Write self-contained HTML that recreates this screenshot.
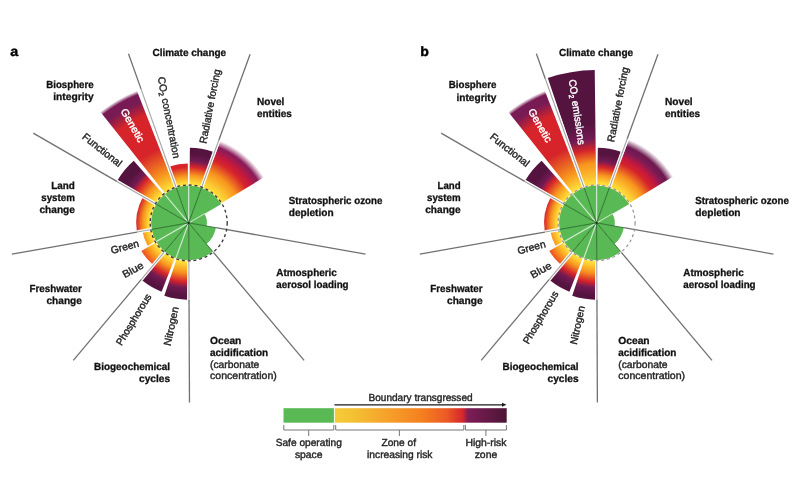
<!DOCTYPE html>
<html><head><meta charset="utf-8"><title>Planetary boundaries</title>
<style>
html,body{margin:0;padding:0;background:#fff;}
body{width:800px;height:500px;overflow:hidden;}
svg{display:block;font-family:"Liberation Sans",sans-serif;text-rendering:geometricPrecision;}
</style></head><body>
<svg width="800" height="500" viewBox="0 0 800 500">
<defs>
<radialGradient id="g1" gradientUnits="userSpaceOnUse" cx="188.7" cy="222.9" r="59.50"><stop offset="0.6723" stop-color="#ffdb38"/><stop offset="0.7899" stop-color="#f7931e"/><stop offset="0.9412" stop-color="#d6242a"/></radialGradient>
<radialGradient id="g2" gradientUnits="userSpaceOnUse" cx="188.7" cy="222.9" r="75.20"><stop offset="0.5319" stop-color="#ffdb38"/><stop offset="0.6383" stop-color="#f7931e"/><stop offset="0.7447" stop-color="#d6242a"/><stop offset="0.8245" stop-color="#721a53"/><stop offset="0.9176" stop-color="#551440"/></radialGradient>
<radialGradient id="g3" gradientUnits="userSpaceOnUse" cx="188.7" cy="222.9" r="88.00"><stop offset="0.4545" stop-color="#ffdb38"/><stop offset="0.6250" stop-color="#f7931e"/><stop offset="0.7614" stop-color="#d6242a"/><stop offset="0.8295" stop-color="#c2183f"/><stop offset="0.9091" stop-color="#8a1c5a"/><stop offset="0.9205" stop-color="#8a1c5a"/><stop offset="1" stop-color="#8a1c5a" stop-opacity="0"/></radialGradient>
<radialGradient id="g4" gradientUnits="userSpaceOnUse" cx="188.7" cy="222.9" r="76.80"><stop offset="0.5208" stop-color="#ffdb38"/><stop offset="0.6510" stop-color="#f7931e"/><stop offset="0.7682" stop-color="#d6242a"/><stop offset="0.8464" stop-color="#721a53"/><stop offset="0.9505" stop-color="#551440"/></radialGradient>
<radialGradient id="g5" gradientUnits="userSpaceOnUse" cx="188.7" cy="222.9" r="74.00"><stop offset="0.5405" stop-color="#ffdb38"/><stop offset="0.6486" stop-color="#f7931e"/><stop offset="0.7568" stop-color="#d6242a"/><stop offset="0.8378" stop-color="#721a53"/><stop offset="0.9459" stop-color="#551440"/></radialGradient>
<radialGradient id="g6" gradientUnits="userSpaceOnUse" cx="188.7" cy="222.9" r="55.00"><stop offset="0.7273" stop-color="#ffdb38"/><stop offset="0.8727" stop-color="#f7931e"/><stop offset="1.0000" stop-color="#ee4d23"/></radialGradient>
<radialGradient id="g7" gradientUnits="userSpaceOnUse" cx="188.7" cy="222.9" r="47.00"><stop offset="0.8511" stop-color="#ffdb38"/><stop offset="1.0000" stop-color="#f7931e"/></radialGradient>
<radialGradient id="g8" gradientUnits="userSpaceOnUse" cx="188.7" cy="222.9" r="52.50"><stop offset="0.7619" stop-color="#ffdb38"/><stop offset="0.8762" stop-color="#f7931e"/><stop offset="1.0000" stop-color="#d6242a"/></radialGradient>
<radialGradient id="g9" gradientUnits="userSpaceOnUse" cx="188.7" cy="222.9" r="83.00"><stop offset="0.4819" stop-color="#ffdb38"/><stop offset="0.6024" stop-color="#f7931e"/><stop offset="0.7229" stop-color="#d6242a"/><stop offset="0.7952" stop-color="#721a53"/><stop offset="0.8795" stop-color="#551440"/></radialGradient>
<radialGradient id="g10" gradientUnits="userSpaceOnUse" cx="188.7" cy="222.9" r="142.00"><stop offset="0.2817" stop-color="#ffdb38"/><stop offset="0.3873" stop-color="#f7931e"/><stop offset="0.5634" stop-color="#d6242a"/><stop offset="0.8169" stop-color="#d6242a"/><stop offset="0.9155" stop-color="#781b54"/><stop offset="0.9718" stop-color="#781b54"/><stop offset="1" stop-color="#781b54" stop-opacity="0"/></radialGradient>
<radialGradient id="g11" gradientUnits="userSpaceOnUse" cx="596.6" cy="222.9" r="153.00"><stop offset="0.2614" stop-color="#ffdb38"/><stop offset="0.3007" stop-color="#fcc030"/><stop offset="0.3922" stop-color="#f7931e"/><stop offset="0.4771" stop-color="#d6242a"/><stop offset="0.5490" stop-color="#721a53"/><stop offset="0.6471" stop-color="#551440"/></radialGradient>
<radialGradient id="g12" gradientUnits="userSpaceOnUse" cx="596.6" cy="222.9" r="75.20"><stop offset="0.5319" stop-color="#ffdb38"/><stop offset="0.6383" stop-color="#f7931e"/><stop offset="0.7447" stop-color="#d6242a"/><stop offset="0.8245" stop-color="#721a53"/><stop offset="0.9176" stop-color="#551440"/></radialGradient>
<radialGradient id="g13" gradientUnits="userSpaceOnUse" cx="596.6" cy="222.9" r="89.50"><stop offset="0.4469" stop-color="#ffdb38"/><stop offset="0.5922" stop-color="#f7931e"/><stop offset="0.7151" stop-color="#d6242a"/><stop offset="0.7821" stop-color="#c2183f"/><stop offset="0.8603" stop-color="#7c1b56"/><stop offset="0.9162" stop-color="#6c184e"/><stop offset="0.9106" stop-color="#6c184e"/><stop offset="1" stop-color="#6c184e" stop-opacity="0"/></radialGradient>
<radialGradient id="g14" gradientUnits="userSpaceOnUse" cx="596.6" cy="222.9" r="76.80"><stop offset="0.5208" stop-color="#ffdb38"/><stop offset="0.6510" stop-color="#f7931e"/><stop offset="0.7682" stop-color="#d6242a"/><stop offset="0.8464" stop-color="#721a53"/><stop offset="0.9505" stop-color="#551440"/></radialGradient>
<radialGradient id="g15" gradientUnits="userSpaceOnUse" cx="596.6" cy="222.9" r="74.00"><stop offset="0.5405" stop-color="#ffdb38"/><stop offset="0.6486" stop-color="#f7931e"/><stop offset="0.7568" stop-color="#d6242a"/><stop offset="0.8378" stop-color="#721a53"/><stop offset="0.9459" stop-color="#551440"/></radialGradient>
<radialGradient id="g16" gradientUnits="userSpaceOnUse" cx="596.6" cy="222.9" r="55.00"><stop offset="0.7273" stop-color="#ffdb38"/><stop offset="0.8727" stop-color="#f7931e"/><stop offset="1.0000" stop-color="#ee4d23"/></radialGradient>
<radialGradient id="g17" gradientUnits="userSpaceOnUse" cx="596.6" cy="222.9" r="47.00"><stop offset="0.8511" stop-color="#ffdb38"/><stop offset="1.0000" stop-color="#f7931e"/></radialGradient>
<radialGradient id="g18" gradientUnits="userSpaceOnUse" cx="596.6" cy="222.9" r="52.50"><stop offset="0.7619" stop-color="#ffdb38"/><stop offset="0.8762" stop-color="#f7931e"/><stop offset="1.0000" stop-color="#d6242a"/></radialGradient>
<radialGradient id="g19" gradientUnits="userSpaceOnUse" cx="596.6" cy="222.9" r="83.00"><stop offset="0.4819" stop-color="#ffdb38"/><stop offset="0.6024" stop-color="#f7931e"/><stop offset="0.7229" stop-color="#d6242a"/><stop offset="0.7952" stop-color="#721a53"/><stop offset="0.8795" stop-color="#551440"/></radialGradient>
<radialGradient id="g20" gradientUnits="userSpaceOnUse" cx="596.6" cy="222.9" r="142.00"><stop offset="0.2817" stop-color="#ffdb38"/><stop offset="0.3873" stop-color="#f7931e"/><stop offset="0.5634" stop-color="#d6242a"/><stop offset="0.8169" stop-color="#d6242a"/><stop offset="0.9155" stop-color="#781b54"/><stop offset="0.9718" stop-color="#781b54"/><stop offset="1" stop-color="#781b54" stop-opacity="0"/></radialGradient>
<linearGradient id="lg" x1="0" x2="1" y1="0" y2="0"><stop offset="0" stop-color="#f5cc3a"/><stop offset="0.1" stop-color="#f4c235"/><stop offset="0.3" stop-color="#f6a22b"/><stop offset="0.5" stop-color="#f5811f"/><stop offset="0.65" stop-color="#ec5a25"/><stop offset="0.745" stop-color="#d6262b"/><stop offset="0.775" stop-color="#7e1d57"/><stop offset="1" stop-color="#4b1535"/></linearGradient>
</defs>
<rect width="800" height="500" fill="#fff"/>
<path d="M188.70,222.90L175.77,187.38A37.80,37.80 0 0 1 188.70,185.10Z" fill="#59b954"/><path d="M176.65,187.50L169.53,166.57A59.50,59.50 0 0 1 187.77,163.41L188.11,185.50A37.40,37.40 0 0 0 176.65,187.50Z" fill="url(#g1)"/>
<path d="M188.70,222.90L188.70,185.10A37.80,37.80 0 0 1 201.63,187.38Z" fill="#59b954"/><path d="M189.29,185.50L189.88,147.71A75.20,75.20 0 0 1 212.93,151.71L200.75,187.50A37.40,37.40 0 0 0 189.29,185.50Z" fill="url(#g2)"/>
<path d="M188.70,222.90L201.63,187.38A37.80,37.80 0 0 1 221.44,204.00Z" fill="#59b954"/><path d="M202.22,188.03L220.52,140.86A88.00,88.00 0 0 1 263.97,177.31L220.69,203.53A37.40,37.40 0 0 0 202.22,188.03Z" fill="url(#g3)"/>
<path d="M188.70,222.90L204.46,213.80A18.20,18.20 0 0 1 206.62,226.06Z" fill="#59b954"/>
<path d="M188.70,222.90L215.88,227.69A27.60,27.60 0 0 1 206.44,244.04Z" fill="#59b954"/>
<path d="M188.70,222.90L212.68,251.47A37.30,37.30 0 0 1 188.70,260.20Z" fill="#59b954"/>
<path d="M188.70,222.90L188.70,260.70A37.80,37.80 0 0 1 175.77,258.42Z" fill="#59b954"/><path d="M187.92,260.29L187.09,299.68A76.80,76.80 0 0 1 164.33,295.73L176.83,258.37A37.40,37.40 0 0 0 187.92,260.29Z" fill="url(#g4)"/>
<path d="M188.70,222.90L175.77,258.42A37.80,37.80 0 0 1 164.40,251.86Z" fill="#59b954"/><path d="M174.99,257.70L161.58,291.75A74.00,74.00 0 0 1 142.33,280.57L165.27,252.05A37.40,37.40 0 0 0 174.99,257.70Z" fill="url(#g5)"/>
<path d="M188.70,222.90L164.40,251.86A37.80,37.80 0 0 1 155.96,241.80Z" fill="#59b954"/><path d="M164.07,251.04L152.47,264.28A55.00,55.00 0 0 1 141.31,250.81L156.48,241.88A37.40,37.40 0 0 0 164.07,251.04Z" fill="url(#g6)"/>
<path d="M188.70,222.90L155.96,241.80A37.80,37.80 0 0 1 151.47,229.46Z" fill="#59b954"/><path d="M156.15,241.32L147.79,246.04A47.00,47.00 0 0 1 142.60,232.03L152.01,230.16A37.40,37.40 0 0 0 156.15,241.32Z" fill="url(#g7)"/>
<path d="M188.70,222.90L151.47,229.46A37.80,37.80 0 0 1 155.96,204.00Z" fill="#59b954"/><path d="M151.74,228.62L136.82,230.93A52.50,52.50 0 0 1 142.69,197.61L155.93,204.88A37.40,37.40 0 0 0 151.74,228.62Z" fill="url(#g8)"/>
<path d="M188.70,222.90L155.96,204.00A37.80,37.80 0 0 1 164.40,193.94Z" fill="#59b954"/><path d="M156.71,203.53L117.70,179.90A83.00,83.00 0 0 1 133.70,160.74L163.92,194.89A37.40,37.40 0 0 0 156.71,203.53Z" fill="url(#g9)"/>
<path d="M188.70,222.90L164.40,193.94A37.80,37.80 0 0 1 175.77,187.38Z" fill="#59b954"/><path d="M165.42,193.63L100.30,111.77A142.00,142.00 0 0 1 136.89,90.69L175.05,188.08A37.40,37.40 0 0 0 165.42,193.63Z" fill="url(#g10)"/>
<line x1="188.70" y1="222.90" x2="188.70" y2="146.70" stroke="#fff" stroke-width="1.3" stroke-opacity="0.6"/>
<line x1="188.70" y1="222.90" x2="96.78" y2="113.36" stroke="#fff" stroke-width="1.3" stroke-opacity="0.6"/>
<line x1="188.70" y1="222.90" x2="140.20" y2="250.90" stroke="#fff" stroke-width="1.3" stroke-opacity="0.6"/>
<line x1="188.70" y1="222.90" x2="162.09" y2="296.01" stroke="#fff" stroke-width="1.3" stroke-opacity="0.6"/>
<line x1="188.70" y1="222.90" x2="204.81" y2="213.60" stroke="#fff" stroke-width="1.1" stroke-opacity="0.5"/>
<line x1="176.02" y1="187.29" x2="141.07" y2="89.13" stroke="#fff" stroke-width="3.5" stroke-opacity="0.9"/>
<line x1="176.02" y1="187.29" x2="141.07" y2="89.13" stroke="#000" stroke-width="1.1" stroke-opacity="0.36"/>
<line x1="141.07" y1="89.13" x2="128.49" y2="53.80" stroke="#000" stroke-width="1.3" stroke-opacity="0.56"/>
<line x1="188.70" y1="222.90" x2="176.02" y2="187.29" stroke="#1f5f22" stroke-width="0.9" stroke-opacity="0.9"/>
<line x1="201.63" y1="187.38" x2="218.80" y2="140.21" stroke="#fff" stroke-width="3.5" stroke-opacity="0.9"/>
<line x1="201.63" y1="187.38" x2="218.80" y2="140.21" stroke="#000" stroke-width="1.1" stroke-opacity="0.36"/>
<line x1="218.80" y1="140.21" x2="250.09" y2="54.23" stroke="#000" stroke-width="1.3" stroke-opacity="0.56"/>
<line x1="188.70" y1="222.90" x2="201.63" y2="187.38" stroke="#1f5f22" stroke-width="0.9" stroke-opacity="0.9"/>
<line x1="215.88" y1="227.69" x2="365.47" y2="254.07" stroke="#000" stroke-width="1.3" stroke-opacity="0.56"/>
<line x1="188.70" y1="222.90" x2="215.88" y2="227.69" stroke="#1f5f22" stroke-width="0.9" stroke-opacity="0.9"/>
<line x1="212.68" y1="251.47" x2="304.08" y2="360.40" stroke="#000" stroke-width="1.3" stroke-opacity="0.56"/>
<line x1="188.70" y1="222.90" x2="212.68" y2="251.47" stroke="#1f5f22" stroke-width="0.9" stroke-opacity="0.9"/>
<line x1="188.86" y1="260.70" x2="189.04" y2="299.70" stroke="#fff" stroke-width="3.5" stroke-opacity="0.9"/>
<line x1="188.86" y1="260.70" x2="189.04" y2="299.70" stroke="#000" stroke-width="1.1" stroke-opacity="0.36"/>
<line x1="189.04" y1="299.70" x2="189.48" y2="402.40" stroke="#000" stroke-width="1.3" stroke-opacity="0.56"/>
<line x1="188.70" y1="222.90" x2="188.86" y2="260.70" stroke="#1f5f22" stroke-width="0.9" stroke-opacity="0.9"/>
<line x1="164.40" y1="251.86" x2="141.13" y2="279.59" stroke="#fff" stroke-width="3.5" stroke-opacity="0.9"/>
<line x1="164.40" y1="251.86" x2="141.13" y2="279.59" stroke="#000" stroke-width="1.1" stroke-opacity="0.36"/>
<line x1="141.13" y1="279.59" x2="73.32" y2="360.40" stroke="#000" stroke-width="1.3" stroke-opacity="0.56"/>
<line x1="188.70" y1="222.90" x2="164.40" y2="251.86" stroke="#1f5f22" stroke-width="0.9" stroke-opacity="0.9"/>
<line x1="151.47" y1="229.46" x2="137.00" y2="232.02" stroke="#fff" stroke-width="3.5" stroke-opacity="0.9"/>
<line x1="151.47" y1="229.46" x2="137.00" y2="232.02" stroke="#000" stroke-width="1.1" stroke-opacity="0.36"/>
<line x1="137.00" y1="232.02" x2="11.93" y2="254.07" stroke="#000" stroke-width="1.3" stroke-opacity="0.56"/>
<line x1="188.70" y1="222.90" x2="151.47" y2="229.46" stroke="#1f5f22" stroke-width="0.9" stroke-opacity="0.9"/>
<line x1="155.96" y1="204.00" x2="116.82" y2="181.40" stroke="#fff" stroke-width="3.5" stroke-opacity="0.9"/>
<line x1="155.96" y1="204.00" x2="116.82" y2="181.40" stroke="#000" stroke-width="1.1" stroke-opacity="0.36"/>
<line x1="116.82" y1="181.40" x2="33.25" y2="133.15" stroke="#000" stroke-width="1.3" stroke-opacity="0.56"/>
<line x1="188.70" y1="222.90" x2="155.96" y2="204.00" stroke="#1f5f22" stroke-width="0.9" stroke-opacity="0.9"/>
<ellipse cx="188.7" cy="222.9" rx="38.4" ry="37.9" fill="none" stroke="#fff" stroke-width="1.2" stroke-opacity="0.55"/>
<ellipse cx="188.7" cy="222.9" rx="38.5" ry="37.9" fill="none" stroke="#3a363d" stroke-width="1.35" stroke-dasharray="2.9 2.9"/>
<circle cx="188.7" cy="222.9" r="1.1" fill="#163516"/>
<path d="M596.60,222.90L583.67,187.38A37.80,37.80 0 0 1 596.60,185.10Z" fill="#59b954"/><path d="M584.67,187.45L547.80,77.89A153.00,153.00 0 0 1 594.73,69.91L596.14,185.50A37.40,37.40 0 0 0 584.67,187.45Z" fill="url(#g11)"/>
<path d="M596.60,222.90L596.60,185.10A37.80,37.80 0 0 1 609.53,187.38Z" fill="#59b954"/><path d="M597.19,185.50L597.78,147.71A75.20,75.20 0 0 1 620.83,151.71L608.65,187.50A37.40,37.40 0 0 0 597.19,185.50Z" fill="url(#g12)"/>
<path d="M596.60,222.90L609.53,187.38A37.80,37.80 0 0 1 629.34,204.00Z" fill="#59b954"/><path d="M610.12,188.03L628.97,139.46A89.50,89.50 0 0 1 673.16,176.54L628.59,203.53A37.40,37.40 0 0 0 610.12,188.03Z" fill="url(#g13)"/>
<path d="M596.60,222.90L612.36,213.80A18.20,18.20 0 0 1 614.52,226.06Z" fill="#59b954"/>
<path d="M596.60,222.90L623.78,227.69A27.60,27.60 0 0 1 614.34,244.04Z" fill="#59b954"/>
<path d="M596.60,222.90L620.58,251.47A37.30,37.30 0 0 1 596.60,260.20Z" fill="#59b954"/>
<path d="M596.60,222.90L596.60,260.70A37.80,37.80 0 0 1 583.67,258.42Z" fill="#59b954"/><path d="M595.82,260.29L594.99,299.68A76.80,76.80 0 0 1 572.23,295.73L584.73,258.37A37.40,37.40 0 0 0 595.82,260.29Z" fill="url(#g14)"/>
<path d="M596.60,222.90L583.67,258.42A37.80,37.80 0 0 1 572.30,251.86Z" fill="#59b954"/><path d="M582.89,257.70L569.48,291.75A74.00,74.00 0 0 1 550.23,280.57L573.17,252.05A37.40,37.40 0 0 0 582.89,257.70Z" fill="url(#g15)"/>
<path d="M596.60,222.90L572.30,251.86A37.80,37.80 0 0 1 563.86,241.80Z" fill="#59b954"/><path d="M571.97,251.04L560.37,264.28A55.00,55.00 0 0 1 549.21,250.81L564.38,241.88A37.40,37.40 0 0 0 571.97,251.04Z" fill="url(#g16)"/>
<path d="M596.60,222.90L563.86,241.80A37.80,37.80 0 0 1 559.37,229.46Z" fill="#59b954"/><path d="M564.05,241.32L555.69,246.04A47.00,47.00 0 0 1 550.50,232.03L559.91,230.16A37.40,37.40 0 0 0 564.05,241.32Z" fill="url(#g17)"/>
<path d="M596.60,222.90L559.37,229.46A37.80,37.80 0 0 1 563.86,204.00Z" fill="#59b954"/><path d="M559.64,228.62L544.72,230.93A52.50,52.50 0 0 1 550.59,197.61L563.83,204.88A37.40,37.40 0 0 0 559.64,228.62Z" fill="url(#g18)"/>
<path d="M596.60,222.90L563.86,204.00A37.80,37.80 0 0 1 572.30,193.94Z" fill="#59b954"/><path d="M564.61,203.53L525.60,179.90A83.00,83.00 0 0 1 541.60,160.74L571.82,194.89A37.40,37.40 0 0 0 564.61,203.53Z" fill="url(#g19)"/>
<path d="M596.60,222.90L572.30,193.94A37.80,37.80 0 0 1 583.67,187.38Z" fill="#59b954"/><path d="M573.32,193.63L508.20,111.77A142.00,142.00 0 0 1 544.79,90.69L582.95,188.08A37.40,37.40 0 0 0 573.32,193.63Z" fill="url(#g20)"/>
<line x1="596.60" y1="222.90" x2="596.60" y2="68.90" stroke="#fff" stroke-width="1.3" stroke-opacity="0.6"/>
<line x1="596.60" y1="222.90" x2="504.68" y2="113.36" stroke="#fff" stroke-width="1.3" stroke-opacity="0.6"/>
<line x1="596.60" y1="222.90" x2="548.10" y2="250.90" stroke="#fff" stroke-width="1.3" stroke-opacity="0.6"/>
<line x1="596.60" y1="222.90" x2="569.99" y2="296.01" stroke="#fff" stroke-width="1.3" stroke-opacity="0.6"/>
<line x1="596.60" y1="222.90" x2="612.71" y2="213.60" stroke="#fff" stroke-width="1.1" stroke-opacity="0.5"/>
<line x1="583.92" y1="187.29" x2="545.28" y2="78.77" stroke="#fff" stroke-width="3.5" stroke-opacity="0.9"/>
<line x1="583.92" y1="187.29" x2="545.28" y2="78.77" stroke="#000" stroke-width="1.1" stroke-opacity="0.36"/>
<line x1="545.28" y1="78.77" x2="536.39" y2="53.80" stroke="#000" stroke-width="1.3" stroke-opacity="0.56"/>
<line x1="596.60" y1="222.90" x2="583.92" y2="187.29" stroke="#1f5f22" stroke-width="0.9" stroke-opacity="0.9"/>
<line x1="609.53" y1="187.38" x2="627.21" y2="138.80" stroke="#fff" stroke-width="3.5" stroke-opacity="0.9"/>
<line x1="609.53" y1="187.38" x2="627.21" y2="138.80" stroke="#000" stroke-width="1.1" stroke-opacity="0.36"/>
<line x1="627.21" y1="138.80" x2="657.99" y2="54.23" stroke="#000" stroke-width="1.3" stroke-opacity="0.56"/>
<line x1="596.60" y1="222.90" x2="609.53" y2="187.38" stroke="#1f5f22" stroke-width="0.9" stroke-opacity="0.9"/>
<line x1="623.78" y1="227.69" x2="773.37" y2="254.07" stroke="#000" stroke-width="1.3" stroke-opacity="0.56"/>
<line x1="596.60" y1="222.90" x2="623.78" y2="227.69" stroke="#1f5f22" stroke-width="0.9" stroke-opacity="0.9"/>
<line x1="620.58" y1="251.47" x2="711.98" y2="360.40" stroke="#000" stroke-width="1.3" stroke-opacity="0.56"/>
<line x1="596.60" y1="222.90" x2="620.58" y2="251.47" stroke="#1f5f22" stroke-width="0.9" stroke-opacity="0.9"/>
<line x1="596.76" y1="260.70" x2="596.94" y2="299.70" stroke="#fff" stroke-width="3.5" stroke-opacity="0.9"/>
<line x1="596.76" y1="260.70" x2="596.94" y2="299.70" stroke="#000" stroke-width="1.1" stroke-opacity="0.36"/>
<line x1="596.94" y1="299.70" x2="597.38" y2="402.40" stroke="#000" stroke-width="1.3" stroke-opacity="0.56"/>
<line x1="596.60" y1="222.90" x2="596.76" y2="260.70" stroke="#1f5f22" stroke-width="0.9" stroke-opacity="0.9"/>
<line x1="572.30" y1="251.86" x2="549.03" y2="279.59" stroke="#fff" stroke-width="3.5" stroke-opacity="0.9"/>
<line x1="572.30" y1="251.86" x2="549.03" y2="279.59" stroke="#000" stroke-width="1.1" stroke-opacity="0.36"/>
<line x1="549.03" y1="279.59" x2="481.22" y2="360.40" stroke="#000" stroke-width="1.3" stroke-opacity="0.56"/>
<line x1="596.60" y1="222.90" x2="572.30" y2="251.86" stroke="#1f5f22" stroke-width="0.9" stroke-opacity="0.9"/>
<line x1="559.37" y1="229.46" x2="544.90" y2="232.02" stroke="#fff" stroke-width="3.5" stroke-opacity="0.9"/>
<line x1="559.37" y1="229.46" x2="544.90" y2="232.02" stroke="#000" stroke-width="1.1" stroke-opacity="0.36"/>
<line x1="544.90" y1="232.02" x2="419.83" y2="254.07" stroke="#000" stroke-width="1.3" stroke-opacity="0.56"/>
<line x1="596.60" y1="222.90" x2="559.37" y2="229.46" stroke="#1f5f22" stroke-width="0.9" stroke-opacity="0.9"/>
<line x1="563.86" y1="204.00" x2="524.72" y2="181.40" stroke="#fff" stroke-width="3.5" stroke-opacity="0.9"/>
<line x1="563.86" y1="204.00" x2="524.72" y2="181.40" stroke="#000" stroke-width="1.1" stroke-opacity="0.36"/>
<line x1="524.72" y1="181.40" x2="441.15" y2="133.15" stroke="#000" stroke-width="1.3" stroke-opacity="0.56"/>
<line x1="596.60" y1="222.90" x2="563.86" y2="204.00" stroke="#1f5f22" stroke-width="0.9" stroke-opacity="0.9"/>
<ellipse cx="596.6" cy="222.9" rx="38.4" ry="37.9" fill="none" stroke="#fff" stroke-width="1.2" stroke-opacity="0.55"/>
<ellipse cx="596.6" cy="222.9" rx="38.5" ry="37.9" fill="none" stroke="#908c98" stroke-width="1.1" stroke-dasharray="2.9 2.9"/>
<circle cx="596.6" cy="222.9" r="1.1" fill="#163516"/>
<text x="10.2" y="55.9" font-size="13.8" font-weight="bold" fill="#000" stroke="#000" stroke-width="0.4" textLength="8" lengthAdjust="spacingAndGlyphs">a</text>
<text x="420.2" y="55.9" font-size="13.6" font-weight="bold" fill="#000" stroke="#000" stroke-width="0.4" textLength="8.6" lengthAdjust="spacingAndGlyphs">b</text>
<text x="152.50" y="56.00" font-size="10.3" font-weight="bold" stroke="#111" stroke-width="0.3" fill="#111" textLength="73.60" lengthAdjust="spacingAndGlyphs">Climate change</text>
<text x="46.25" y="87.90" font-size="10.3" font-weight="bold" stroke="#111" stroke-width="0.3" fill="#111" textLength="47.35" lengthAdjust="spacingAndGlyphs">Biosphere</text>
<text x="53.25" y="100.10" font-size="10.3" font-weight="bold" stroke="#111" stroke-width="0.3" fill="#111" textLength="40.35" lengthAdjust="spacingAndGlyphs">integrity</text>
<text x="257.00" y="105.00" font-size="10.3" font-weight="bold" stroke="#111" stroke-width="0.3" fill="#111" textLength="27.35" lengthAdjust="spacingAndGlyphs">Novel</text>
<text x="257.00" y="117.00" font-size="10.3" font-weight="bold" stroke="#111" stroke-width="0.3" fill="#111" textLength="34.85" lengthAdjust="spacingAndGlyphs">entities</text>
<text x="288.75" y="203.90" font-size="10.3" font-weight="bold" stroke="#111" stroke-width="0.3" fill="#111" textLength="93.60" lengthAdjust="spacingAndGlyphs">Stratospheric ozone</text>
<text x="288.75" y="216.00" font-size="10.3" font-weight="bold" stroke="#111" stroke-width="0.3" fill="#111" textLength="44.85" lengthAdjust="spacingAndGlyphs">depletion</text>
<text x="51.25" y="188.75" font-size="10.3" font-weight="bold" stroke="#111" stroke-width="0.3" fill="#111" textLength="23.60" lengthAdjust="spacingAndGlyphs">Land</text>
<text x="41.25" y="200.75" font-size="10.3" font-weight="bold" stroke="#111" stroke-width="0.3" fill="#111" textLength="33.60" lengthAdjust="spacingAndGlyphs">system</text>
<text x="39.50" y="212.50" font-size="10.3" font-weight="bold" stroke="#111" stroke-width="0.3" fill="#111" textLength="35.35" lengthAdjust="spacingAndGlyphs">change</text>
<text x="29.50" y="291.75" font-size="10.3" font-weight="bold" stroke="#111" stroke-width="0.3" fill="#111" textLength="52.35" lengthAdjust="spacingAndGlyphs">Freshwater</text>
<text x="46.50" y="303.75" font-size="10.3" font-weight="bold" stroke="#111" stroke-width="0.3" fill="#111" textLength="35.35" lengthAdjust="spacingAndGlyphs">change</text>
<text x="94.00" y="369.50" font-size="10.3" font-weight="bold" stroke="#111" stroke-width="0.3" fill="#111" textLength="76.10" lengthAdjust="spacingAndGlyphs">Biogeochemical</text>
<text x="139.00" y="381.75" font-size="10.3" font-weight="bold" stroke="#111" stroke-width="0.3" fill="#111" textLength="31.10" lengthAdjust="spacingAndGlyphs">cycles</text>
<text x="276.25" y="276.25" font-size="10.3" font-weight="bold" stroke="#111" stroke-width="0.3" fill="#111" textLength="60.60" lengthAdjust="spacingAndGlyphs">Atmospheric</text>
<text x="276.25" y="288.25" font-size="10.3" font-weight="bold" stroke="#111" stroke-width="0.3" fill="#111" textLength="72.35" lengthAdjust="spacingAndGlyphs">aerosol loading</text>
<text x="210.00" y="344.25" font-size="10.3" font-weight="bold" stroke="#111" stroke-width="0.3" fill="#111" textLength="31.35" lengthAdjust="spacingAndGlyphs">Ocean</text>
<text x="210.00" y="356.25" font-size="10.3" font-weight="bold" stroke="#111" stroke-width="0.3" fill="#111" textLength="58.10" lengthAdjust="spacingAndGlyphs">acidification</text>
<text x="559.00" y="55.60" font-size="10.3" font-weight="bold" stroke="#111" stroke-width="0.3" fill="#111" textLength="74.10" lengthAdjust="spacingAndGlyphs">Climate change</text>
<text x="448.75" y="88.40" font-size="10.3" font-weight="bold" stroke="#111" stroke-width="0.3" fill="#111" textLength="47.60" lengthAdjust="spacingAndGlyphs">Biosphere</text>
<text x="456.50" y="100.50" font-size="10.3" font-weight="bold" stroke="#111" stroke-width="0.3" fill="#111" textLength="39.85" lengthAdjust="spacingAndGlyphs">integrity</text>
<text x="665.00" y="105.00" font-size="10.3" font-weight="bold" stroke="#111" stroke-width="0.3" fill="#111" textLength="27.60" lengthAdjust="spacingAndGlyphs">Novel</text>
<text x="665.00" y="117.00" font-size="10.3" font-weight="bold" stroke="#111" stroke-width="0.3" fill="#111" textLength="35.10" lengthAdjust="spacingAndGlyphs">entities</text>
<text x="695.25" y="203.90" font-size="10.3" font-weight="bold" stroke="#111" stroke-width="0.3" fill="#111" textLength="93.60" lengthAdjust="spacingAndGlyphs">Stratospheric ozone</text>
<text x="695.25" y="216.00" font-size="10.3" font-weight="bold" stroke="#111" stroke-width="0.3" fill="#111" textLength="45.35" lengthAdjust="spacingAndGlyphs">depletion</text>
<text x="437.50" y="188.75" font-size="10.3" font-weight="bold" stroke="#111" stroke-width="0.3" fill="#111" textLength="23.10" lengthAdjust="spacingAndGlyphs">Land</text>
<text x="427.00" y="200.75" font-size="10.3" font-weight="bold" stroke="#111" stroke-width="0.3" fill="#111" textLength="33.60" lengthAdjust="spacingAndGlyphs">system</text>
<text x="425.25" y="212.50" font-size="10.3" font-weight="bold" stroke="#111" stroke-width="0.3" fill="#111" textLength="35.35" lengthAdjust="spacingAndGlyphs">change</text>
<text x="430.25" y="291.75" font-size="10.3" font-weight="bold" stroke="#111" stroke-width="0.3" fill="#111" textLength="52.35" lengthAdjust="spacingAndGlyphs">Freshwater</text>
<text x="447.00" y="303.75" font-size="10.3" font-weight="bold" stroke="#111" stroke-width="0.3" fill="#111" textLength="35.60" lengthAdjust="spacingAndGlyphs">change</text>
<text x="502.50" y="369.50" font-size="10.3" font-weight="bold" stroke="#111" stroke-width="0.3" fill="#111" textLength="76.10" lengthAdjust="spacingAndGlyphs">Biogeochemical</text>
<text x="547.50" y="381.75" font-size="10.3" font-weight="bold" stroke="#111" stroke-width="0.3" fill="#111" textLength="31.10" lengthAdjust="spacingAndGlyphs">cycles</text>
<text x="683.25" y="276.25" font-size="10.3" font-weight="bold" stroke="#111" stroke-width="0.3" fill="#111" textLength="60.60" lengthAdjust="spacingAndGlyphs">Atmospheric</text>
<text x="683.25" y="288.25" font-size="10.3" font-weight="bold" stroke="#111" stroke-width="0.3" fill="#111" textLength="72.35" lengthAdjust="spacingAndGlyphs">aerosol loading</text>
<text x="618.25" y="344.25" font-size="10.3" font-weight="bold" stroke="#111" stroke-width="0.3" fill="#111" textLength="31.35" lengthAdjust="spacingAndGlyphs">Ocean</text>
<text x="618.25" y="356.25" font-size="10.3" font-weight="bold" stroke="#111" stroke-width="0.3" fill="#111" textLength="58.10" lengthAdjust="spacingAndGlyphs">acidification</text>
<text x="210.00" y="367.50" font-size="10.3" stroke="#262626" stroke-width="0.4" fill="#262626" textLength="49.35" lengthAdjust="spacingAndGlyphs">(carbonate</text>
<text x="210.00" y="378.75" font-size="10.3" stroke="#262626" stroke-width="0.4" fill="#262626" textLength="66.85" lengthAdjust="spacingAndGlyphs">concentration)</text>
<text x="618.25" y="367.50" font-size="10.3" stroke="#262626" stroke-width="0.4" fill="#262626" textLength="49.35" lengthAdjust="spacingAndGlyphs">(carbonate</text>
<text x="618.25" y="378.75" font-size="10.3" stroke="#262626" stroke-width="0.4" fill="#262626" textLength="66.85" lengthAdjust="spacingAndGlyphs">concentration)</text>
<text x="157.66" y="77.49" font-size="10.3" fill="#262626" stroke="#262626" stroke-width="0.4" textLength="82.70" lengthAdjust="spacingAndGlyphs" transform="rotate(79.02 157.66 77.49)">CO<tspan font-size="7" dy="2.2">2</tspan><tspan dy="-2.2"> </tspan>concentration</text>
<text x="206.24" y="143.99" font-size="10.3" fill="#262626" stroke="#262626" stroke-width="0.4" textLength="75.36" lengthAdjust="spacingAndGlyphs" transform="rotate(-79.02 206.24 143.99)">Radiative forcing</text>
<text x="120.27" y="111.10" font-size="10.3" fill="#fff" stroke="#fff" stroke-width="0.4" textLength="37.13" lengthAdjust="spacingAndGlyphs" transform="rotate(60.12 120.27 111.10)">Genetic</text>
<text x="81.56" y="138.02" font-size="10.3" fill="#262626" stroke="#262626" stroke-width="0.4" textLength="47.14" lengthAdjust="spacingAndGlyphs" transform="rotate(38.43 81.56 138.02)">Functional</text>
<text x="111.72" y="253.88" font-size="10.3" fill="#262626" stroke="#262626" stroke-width="0.4" textLength="28.94" lengthAdjust="spacingAndGlyphs" transform="rotate(-14.83 111.72 253.88)">Green</text>
<text x="124.84" y="278.36" font-size="10.3" fill="#262626" stroke="#262626" stroke-width="0.4" textLength="22.37" lengthAdjust="spacingAndGlyphs" transform="rotate(-28.82 124.84 278.36)">Blue</text>
<text x="121.48" y="346.18" font-size="10.3" fill="#262626" stroke="#262626" stroke-width="0.4" textLength="58.34" lengthAdjust="spacingAndGlyphs" transform="rotate(-58.58 121.48 346.18)">Phosphorous</text>
<text x="170.53" y="346.24" font-size="10.3" fill="#262626" stroke="#262626" stroke-width="0.4" textLength="39.63" lengthAdjust="spacingAndGlyphs" transform="rotate(-78.11 170.53 346.24)">Nitrogen</text>
<text x="568.63" y="79.93" font-size="10.3" fill="#fff" stroke="#fff" stroke-width="0.4" textLength="65.91" lengthAdjust="spacingAndGlyphs" transform="rotate(81.52 568.63 79.93)">CO<tspan font-size="7" dy="2.2">2</tspan><tspan dy="-2.2"> </tspan>emissions</text>
<text x="614.04" y="142.45" font-size="10.3" fill="#262626" stroke="#262626" stroke-width="0.4" textLength="75.96" lengthAdjust="spacingAndGlyphs" transform="rotate(-78.88 614.04 142.45)">Radiative forcing</text>
<text x="527.87" y="111.10" font-size="10.3" fill="#fff" stroke="#fff" stroke-width="0.4" textLength="37.13" lengthAdjust="spacingAndGlyphs" transform="rotate(60.12 527.87 111.10)">Genetic</text>
<text x="489.16" y="138.02" font-size="10.3" fill="#262626" stroke="#262626" stroke-width="0.4" textLength="47.14" lengthAdjust="spacingAndGlyphs" transform="rotate(38.43 489.16 138.02)">Functional</text>
<text x="518.43" y="254.48" font-size="10.3" fill="#262626" stroke="#262626" stroke-width="0.4" textLength="28.74" lengthAdjust="spacingAndGlyphs" transform="rotate(-14.93 518.43 254.48)">Green</text>
<text x="532.74" y="278.66" font-size="10.3" fill="#262626" stroke="#262626" stroke-width="0.4" textLength="22.51" lengthAdjust="spacingAndGlyphs" transform="rotate(-28.93 532.74 278.66)">Blue</text>
<text x="528.40" y="344.84" font-size="10.3" fill="#262626" stroke="#262626" stroke-width="0.4" textLength="59.45" lengthAdjust="spacingAndGlyphs" transform="rotate(-59.24 528.40 344.84)">Phosphorous</text>
<text x="576.78" y="344.95" font-size="10.3" fill="#262626" stroke="#262626" stroke-width="0.4" textLength="39.14" lengthAdjust="spacingAndGlyphs" transform="rotate(-77.96 576.78 344.95)">Nitrogen</text>
<rect x="283.5" y="408.2" width="50.4" height="14.5" fill="#59b954"/>
<rect x="334.8" y="408.2" width="171.9" height="14.5" fill="url(#lg)"/>
<line x1="334.5" y1="404.8" x2="503" y2="404.8" stroke="#1a1a1a" stroke-width="1.2"/>
<path d="M506.5,404.8 L502,402.8 L502,406.8 Z" fill="#1a1a1a"/>
<path d="M283.8,425 V430 H333.8 V425 M308.7,430 V436" fill="none" stroke="#777" stroke-width="1"/>
<path d="M335.7,425 V430 H463.8 V425 M399.4,430 V436" fill="none" stroke="#777" stroke-width="1"/>
<path d="M465.4,425 V430 H506.4 V425 M485.9,430 V436" fill="none" stroke="#777" stroke-width="1"/>
<text x="368.50" y="401.00" font-size="10.3" stroke="#262626" stroke-width="0.4" fill="#262626" textLength="104.10" lengthAdjust="spacingAndGlyphs">Boundary transgressed</text>
<text x="275.70" y="445.80" font-size="10.3" stroke="#262626" stroke-width="0.4" fill="#262626" textLength="66.10" lengthAdjust="spacingAndGlyphs">Safe operating</text>
<text x="294.95" y="457.50" font-size="10.3" stroke="#262626" stroke-width="0.4" fill="#262626" textLength="27.60" lengthAdjust="spacingAndGlyphs">space</text>
<text x="381.50" y="445.80" font-size="10.3" stroke="#262626" stroke-width="0.4" fill="#262626" textLength="34.50" lengthAdjust="spacingAndGlyphs">Zone of</text>
<text x="367.05" y="457.50" font-size="10.3" stroke="#262626" stroke-width="0.4" fill="#262626" textLength="65.40" lengthAdjust="spacingAndGlyphs">increasing risk</text>
<text x="465.40" y="445.80" font-size="10.3" stroke="#262626" stroke-width="0.4" fill="#262626" textLength="41.10" lengthAdjust="spacingAndGlyphs">High-risk</text>
<text x="474.65" y="457.50" font-size="10.3" stroke="#262626" stroke-width="0.4" fill="#262626" textLength="22.60" lengthAdjust="spacingAndGlyphs">zone</text>
</svg>
</body></html>
